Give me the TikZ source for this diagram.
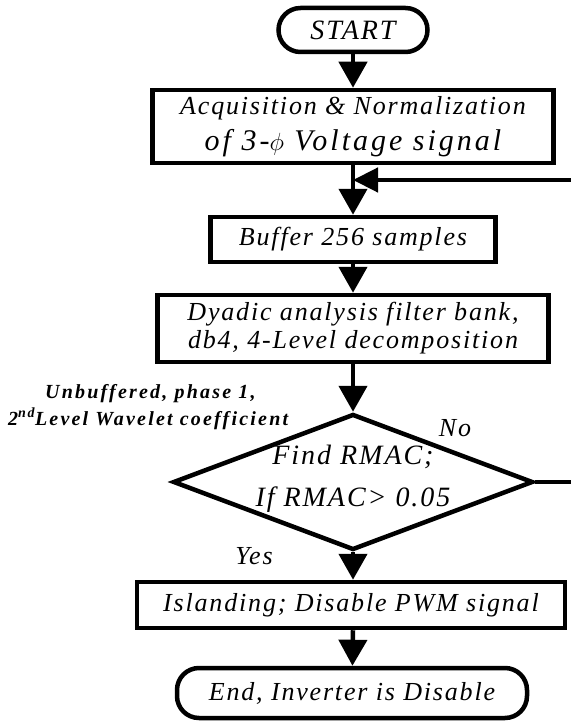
\documentclass[tikz,border=0pt]{standalone}
\usepackage{fontspec}
\setmainfont{Liberation Serif}[LetterSpace=7]
\newfontfamily\widefont{Liberation Serif}[LetterSpace=10]
\newfontfamily\notefont{Liberation Serif}[LetterSpace=11]
\usetikzlibrary{arrows.meta,shapes.geometric}
\tikzset{
  line/.style={line width=4.5pt},
  flow/.style={line, -{Triangle[width=28pt,length=26pt]}},
  back/.style={line, -{Triangle[width=24pt,length=25pt]}},
  procbox/.style={draw, line width=4.5pt, align=center, inner sep=0pt, font=\fontsize{26}{28}\selectfont\itshape},
  term/.style={draw, line width=4.5pt, rounded corners=22pt, inner sep=0pt, font=\fontsize{26}{28}\selectfont\itshape},
  decide/.style={draw, diamond, line width=4.5pt, inner sep=0pt},
  lbl/.style={font=\fontsize{26}{28}\selectfont\itshape},
  note/.style={align=left, inner sep=0pt, font=\fontsize{20}{27}\notefont\bfseries\itshape}
}
\begin{document}
\begin{tikzpicture}[x=1pt,y=-1pt]
\useasboundingbox (0,0) rectangle (570,722);
\node[term, minimum width=149pt, minimum height=44pt, font=\fontsize{28}{30}\selectfont\itshape] (start) at (353,30) {START};
\node[procbox, minimum width=401pt, minimum height=73pt] (acq) at (353,126.5)
  {Acquisition \& Normalization\\[8pt] {\fontsize{30}{32}\widefont\itshape of 3-$\phi$ Voltage signal}};
\node[procbox, minimum width=285pt, minimum height=45pt] (buf) at (353,239.5) {Buffer 256 samples};
\node[procbox, minimum width=391pt, minimum height=67pt] (dya) at (353,328.5)
  {Dyadic analysis filter bank,\\ db4, 4-Level decomposition};
\node[decide, minimum width=360pt, minimum height=136pt] (dec) at (353,482) {};
\node[lbl, align=center, font=\fontsize{28}{30}\selectfont\itshape] (dectxt) at ([yshift=3pt]dec.center) {Find RMAC;\\[12pt] If RMAC> 0.05};
\node[procbox, minimum width=428pt, minimum height=46pt] (isl) at (351,605) {Islanding; Disable PWM signal};
\node[term, minimum width=350pt, minimum height=50pt] (end) at (352,693) {End, Inverter is Disable};
\node[note, anchor=base west] (coef) at (8,425) {\hspace*{37pt}Unbuffered, phase 1,\\ 2\textsuperscript{nd}Level Wavelet coefficient};
\node[lbl] (no) at (455,428) {No};
\node[lbl] (yes) at (254,556) {Yes};
\coordinate (join) at (353,180);
\coordinate (r1) at (576,482);
\coordinate (r2) at (576,180);
\draw[flow] (start) -- (start |- acq.north);
\draw[flow] (start |- acq.south) -- (buf);
\draw[flow] (buf) -- (buf |- dya.north);
\draw[flow] (buf |- dya.south) -- (dec.north);
\draw[flow] (dec.south) -- (dec |- isl.north);
\draw[flow] (dec |- isl.south) -- (end);
\draw[back] (dec.east) -- (r1) -- (r2) -- (join);
\end{tikzpicture}
\end{document}
